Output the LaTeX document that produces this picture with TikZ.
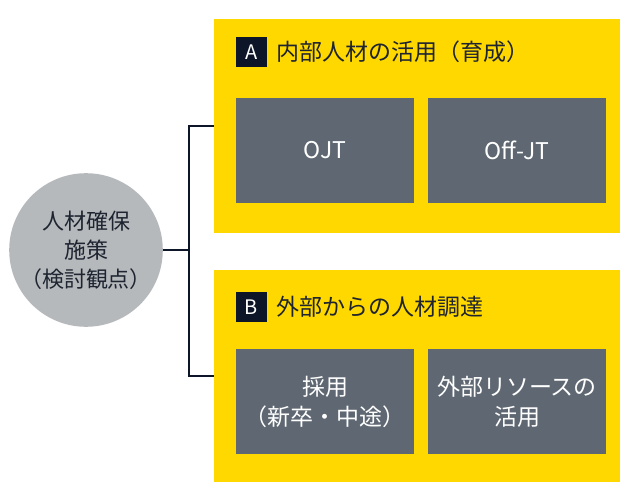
\documentclass[tikz,border=0pt]{standalone}
\usepackage{fontspec}
\setmainfont{Noto Sans CJK JP}
\definecolor{ybox}{HTML}{FFD800}
\definecolor{gbox}{HTML}{5F6872}
\definecolor{cgray}{HTML}{B5B9BC}
\definecolor{navy}{HTML}{0D1629}
\definecolor{txt}{HTML}{1E2430}
\tikzset{
  panel/.style={fill=ybox, draw=none, minimum width=406pt, inner sep=0pt},
  tag/.style={fill=navy, text=white, minimum width=31pt, minimum height=30pt, inner sep=0pt, font=\fontsize{20}{20}\selectfont},
  title/.style={anchor=west, text=txt, inner sep=0pt, font=\fontsize{23}{25}\selectfont},
  item/.style={fill=gbox, text=white, minimum width=178pt, minimum height=105pt, inner sep=0pt, align=center, font=\fontsize{23}{30}\selectfont},
  conn/.style={draw=navy, line width=1.4pt}
}
\begin{document}
\begin{tikzpicture}[x=1pt,y=-1pt]
\useasboundingbox (0,0) rectangle (625,482);
\node[panel, minimum height=214pt] (ba) at (417,126) {};
\node[panel, minimum height=212pt] (bb) at (417,376) {};
\node[tag] (ta) at (251.5,52) {A};
\node[tag] (tb) at (251.5,307) {B};
\node[title] (tia) at (276,52) {内部人材の活用（育成）};
\node[title] (tib) at (276,307) {外部からの人材調達};
\node[item] (a1) at (325,150.5) {OJT};
\node[item] (a2) at (517,150.5) {Off-JT};
\node[item] (b1) at (325,401.5) {採用\\（新卒・中途）};
\node[item] (b2) at (517,401.5) {外部リソースの\\活用};
\node[circle, fill=cgray, minimum size=152pt, inner sep=0pt, align=center, text=txt, font=\fontsize{22}{29}\selectfont] (c) at (86,250) {人材確保\\施策\\（検討観点）};
\coordinate (j) at (189,250);
\draw[conn] (c.east) -- (j);
\draw[conn] (ba.west) -| (j) |- (bb.west);
\end{tikzpicture}
\end{document}
